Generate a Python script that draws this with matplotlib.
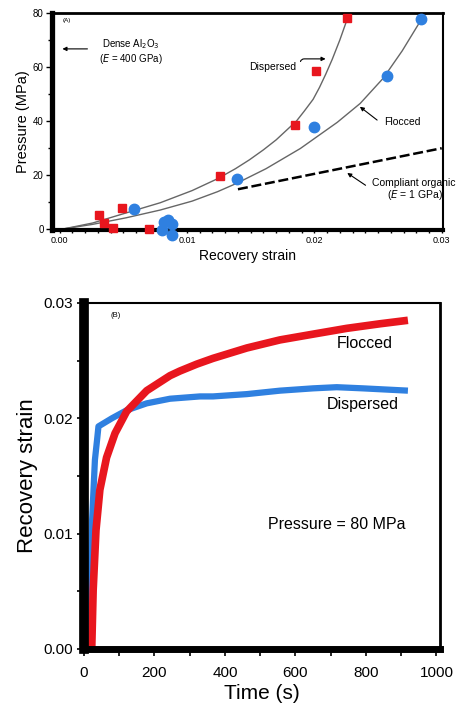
import numpy as np
import matplotlib
matplotlib.use("Agg")
import matplotlib.pyplot as plt
from matplotlib.patches import FancyArrowPatch
from matplotlib.ticker import MultipleLocator

plt.rcParams['font.family'] = ['Liberation Sans', 'DejaVu Sans']

# ---- panel A data: pressure vs recovery strain ----
disp_strain = [0.0226, 0.0201, 0.0185, 0.0126, 0.0049, 0.0031, 0.0035, 0.0042, 0.0070]
disp_press = [78.1, 58.5, 38.5, 19.6, 7.8, 5.2, 2.2, 0.4, 0.0]
floc_strain = [0.0284, 0.0257, 0.0200, 0.0139, 0.0058, 0.0082, 0.0088, 0.0085, 0.0080, 0.0088]
floc_press = [77.8, 56.7, 37.8, 18.5, 7.4, 2.7, 1.9, 3.2, -0.4, -2.2]

# fitted curves
disp_fit_x = [0.0003, 0.0026, 0.0052, 0.0079, 0.0104, 0.0124, 0.0138, 0.0149,
              0.0160, 0.0170, 0.0186, 0.0192, 0.0199, 0.0204, 0.0209, 0.0214,
              0.0220, 0.0226]
disp_fit_y = [0.0, 2.2, 5.9, 9.7, 14.2, 18.6, 22.3, 25.6, 29.3, 33.0, 40.0,
              43.6, 48.0, 52.4, 57.4, 62.8, 70.0, 78.0]
floc_fit_x = [0.0003, 0.0026, 0.0052, 0.0079, 0.0104, 0.0124, 0.0139, 0.0162,
              0.0189, 0.0218, 0.0236, 0.0254, 0.0269, 0.0284]
floc_fit_y = [0.0, 1.7, 4.1, 7.0, 10.3, 13.8, 16.9, 22.3, 29.8, 39.5, 46.5,
              55.8, 66.0, 77.6]

organic_x = [0.0140, 0.0300]
organic_y = [14.7, 29.9]

# ---- panel B data: recovery strain vs time ----
floc_t = [22, 26, 34, 45, 64, 88, 121, 178, 244, 272, 320, 366, 462, 556, 650, 745, 840, 919]
floc_s = [0.0001, 0.0051, 0.0103, 0.0138, 0.0166, 0.0187, 0.0206, 0.0224, 0.0237,
          0.0241, 0.0247, 0.0252, 0.0261, 0.0268, 0.0273, 0.0278, 0.0282, 0.0285]
disp_t = [14, 17, 23, 31, 38, 41, 79, 121, 178, 244, 329, 366, 462, 556, 650, 717, 791, 919]
disp_s = [0.0001, 0.0042, 0.0112, 0.0164, 0.0184, 0.0193, 0.0200, 0.0207, 0.0213,
          0.0217, 0.0219, 0.0219, 0.0221, 0.0224, 0.0226, 0.0227, 0.0226, 0.0224]

RED = '#e8161e'
BLUE = '#2f80e0'

W, H = 471, 709
fig = plt.figure(figsize=(W / 100, H / 100), dpi=100)

# ================= Panel A =================
axA = fig.add_axes([52 / W, 1 - 230 / H, (443 - 52) / W, (230 - 13) / H])
axA.set_xlim(-0.0006, 0.0301)
axA.set_ylim(-0.4, 80)

axA.plot(disp_fit_x, disp_fit_y, color='#666666', lw=1.0)
axA.plot(floc_fit_x, floc_fit_y, color='#666666', lw=1.0)
axA.plot(organic_x, organic_y, color='black', lw=1.8, dashes=(4, 1.5))
axA.plot(disp_strain, disp_press, 's', color=RED, ms=5.5, clip_on=False, zorder=5)
axA.plot(floc_strain, floc_press, 'o', color=BLUE, ms=7.5, clip_on=False, zorder=5)

axA.spines['left'].set_linewidth(3.8)
axA.spines['bottom'].set_linewidth(3.0)
axA.spines['top'].set_linewidth(2.0)
axA.spines['right'].set_linewidth(1.5)

axA.xaxis.set_minor_locator(MultipleLocator(0.001))
axA.yaxis.set_major_locator(MultipleLocator(20))
axA.yaxis.set_minor_locator(MultipleLocator(10))
axA.set_xticks([0.0, 0.01, 0.02, 0.03])
axA.set_xticklabels(['0.00', '0.01', '0.02', '0.03'])
axA.tick_params(axis='x', which='both', direction='out', length=2.5, width=1,
                labelsize=6.5, pad=2)
axA.tick_params(axis='y', which='major', direction='out', length=4, width=1,
                labelsize=7, pad=2)
axA.tick_params(axis='y', which='minor', direction='out', length=3, width=1)
axA.set_xlabel('Recovery strain', fontsize=10, labelpad=3)
axA.set_ylabel('Pressure (MPa)', fontsize=10.5, labelpad=2)

axA.text(0.0002, 76.5, '(A)', fontsize=4.5)
axA.annotate('', xy=(0.0000, 66.7), xytext=(0.0024, 66.7),
             arrowprops=dict(arrowstyle='-|>', color='black', lw=0.8,
                             mutation_scale=6))
axA.text(0.0056, 65.8, 'Dense Al$_2$O$_3$\n($E$ = 400 GPa)', fontsize=7,
         ha='center', va='center', linespacing=1.1)

axA.text(0.0167, 60, 'Dispersed', fontsize=7.5, ha='center', va='center')
axA.add_patch(FancyArrowPatch((0.0189, 61.0), (0.0211, 63.0),
                              connectionstyle='angle,angleA=90,angleB=0,rad=4',
                              arrowstyle='-|>', mutation_scale=6, lw=0.8,
                              color='black'))

axA.text(0.0269, 39.6, 'Flocced', fontsize=7.5, ha='center', va='center')
axA.annotate('', xy=(0.0234, 45.9), xytext=(0.0251, 39.7),
             arrowprops=dict(arrowstyle='-|>', color='black', lw=0.8,
                             mutation_scale=6))

axA.text(0.0278, 17.0, 'Compliant organic', fontsize=7.5, ha='center', va='center')
axA.text(0.0279, 12.4, '($E$ = 1 GPa)', fontsize=7.5, ha='center', va='center')
axA.annotate('', xy=(0.0224, 21.3), xytext=(0.0242, 15.6),
             arrowprops=dict(arrowstyle='-|>', color='black', lw=0.8,
                             mutation_scale=6))

# ================= Panel B =================
axB = fig.add_axes([84 / W, 1 - 649 / H, (440 - 84) / W, (649 - 303) / H])
axB.set_xlim(0, 1010)
axB.set_ylim(0, 0.03)

axB.plot(disp_t, disp_s, color=BLUE, lw=4.5, solid_capstyle='butt',
         solid_joinstyle='round')
axB.plot(floc_t, floc_s, color=RED, lw=5.5, solid_capstyle='butt',
         solid_joinstyle='round')

axB.spines['left'].set_linewidth(7)
axB.spines['bottom'].set_linewidth(5)
axB.spines['top'].set_linewidth(1.5)
axB.spines['right'].set_linewidth(2)

axB.xaxis.set_major_locator(MultipleLocator(200))
axB.xaxis.set_minor_locator(MultipleLocator(100))
axB.yaxis.set_minor_locator(MultipleLocator(0.005))
axB.set_yticks([0.0, 0.01, 0.02, 0.03])
axB.set_yticklabels(['0.00', '0.01', '0.02', '0.03'])
axB.tick_params(axis='both', which='both', direction='out', length=5, width=1.2,
                labelsize=11)
axB.tick_params(axis='x', which='major', pad=7)
axB.tick_params(axis='y', which='major', pad=3)
axB.set_xlabel('Time (s)', fontsize=15, labelpad=3)
axB.set_ylabel('Recovery strain', fontsize=16, labelpad=4)

axB.text(74, 0.0288, '(B)', fontsize=5.5)
axB.text(797, 0.0265, 'Flocced', fontsize=11.5, ha='center', va='center')
axB.text(791, 0.0212, 'Dispersed', fontsize=11.5, ha='center', va='center')
axB.text(718, 0.0108, 'Pressure = 80 MPa', fontsize=11.5, ha='center', va='center')

fig.savefig('out.png', dpi=100)
